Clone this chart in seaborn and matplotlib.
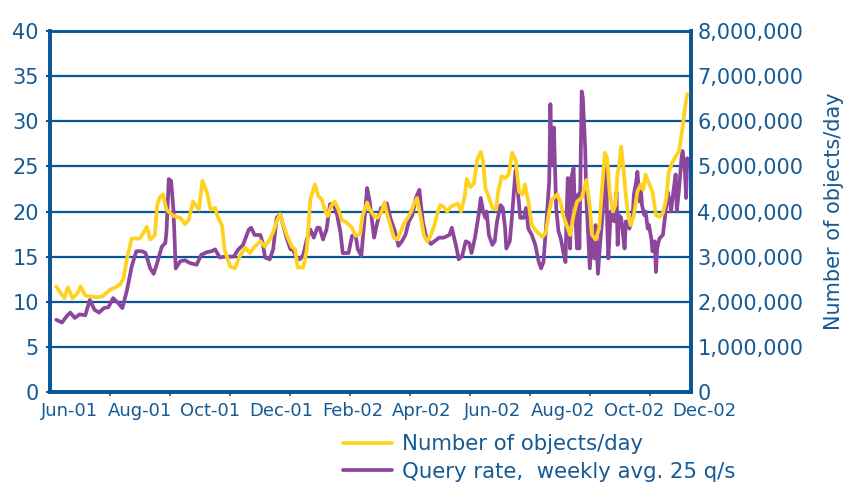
import matplotlib
matplotlib.use("Agg")
import matplotlib.pyplot as plt
import matplotlib.dates as mdates
from matplotlib.ticker import FuncFormatter
import pandas as pd
import seaborn as sns

# ---------------- data ----------------
# days since 2001-06-01
query_days = [-11, -6, -2, 1, 5, 9, 14, 18, 22, 26, 30, 34, 38, 42, 46, 50, 54, 58, 63, 66,
              70, 73, 76, 80, 83, 84, 86, 88, 90, 92, 96, 100, 104, 110, 114, 119, 123, 126, 130, 134,
              137, 142, 146, 150, 155, 157, 160, 165, 167, 169, 173, 176, 179, 182, 185, 188, 191, 193, 196, 199,
              202, 205, 208, 211, 214, 216, 219, 222, 225, 228, 231, 234, 236, 241, 244, 247, 249, 252, 255, 257,
              259, 263, 266, 269, 272, 274, 277, 281, 284, 287, 290, 293, 296, 299, 302, 305, 308, 312, 315, 319,
              323, 328, 330, 332, 334, 336, 339, 342, 345, 347, 350, 353, 355, 357, 359, 360, 362, 365, 367, 369,
              372, 374, 376, 377, 380, 382, 385, 387, 389, 392, 394, 396, 399, 402, 405, 407, 409, 411, 414, 415,
              416, 418, 420, 422, 424, 426, 428, 429, 430, 432, 433, 435, 436, 438, 439, 440, 442, 443, 445, 446,
              448, 449, 451, 453, 454, 456, 458, 460, 461, 463, 464, 465, 467, 469, 470, 472, 473, 474, 476, 477,
              479, 480, 482, 483, 484, 486, 487, 489, 490, 492, 493, 494, 496, 497, 499, 500, 502, 503, 505, 506,
              507, 509, 512, 514, 516, 518, 519, 521, 523, 524, 526, 528, 529, 531, 532, 533]
query_rate = [8.0, 7.7, 8.4, 8.8, 8.2, 8.6, 8.5, 10.2, 9.1, 8.8, 9.3, 9.4, 10.4, 9.9, 9.3, 11.3, 13.9, 15.6, 15.6, 15.4,
              13.7, 13.1, 14.3, 16.1, 16.5, 17.7, 23.6, 23.4, 20.2, 13.7, 14.5, 14.6, 14.3, 14.1, 15.2, 15.5, 15.6, 15.8, 14.9, 15.0,
              15.0, 15.0, 15.8, 16.3, 18.0, 18.2, 17.4, 17.4, 16.5, 14.9, 14.7, 15.8, 19.3, 19.7, 18.3, 16.9, 15.8, 15.8, 14.9, 14.7,
              15.2, 16.9, 18.0, 17.1, 18.2, 18.2, 16.9, 18.0, 20.8, 20.8, 19.7, 17.7, 15.4, 15.4, 17.3, 17.4, 15.8, 15.1, 19.5, 22.6,
              21.3, 17.1, 18.9, 20.4, 20.5, 20.9, 19.3, 17.8, 16.2, 16.7, 17.4, 18.9, 19.6, 21.5, 22.4, 18.9, 17.1, 16.4, 16.7, 17.1,
              17.1, 17.4, 18.2, 17.1, 16.0, 14.7, 15.1, 16.7, 16.5, 15.4, 17.1, 19.5, 21.5, 20.0, 19.3, 20.0, 17.4, 16.3, 16.7, 18.9,
              20.7, 20.4, 18.1, 15.9, 16.7, 19.6, 24.6, 22.2, 19.3, 19.3, 20.4, 18.1, 17.4, 16.3, 14.4, 13.7, 14.4, 17.8, 23.3, 31.9,
              25.2, 29.3, 20.4, 17.8, 17.0, 15.6, 14.4, 19.6, 23.7, 15.9, 23.7, 24.8, 20.4, 15.9, 21.9, 15.9, 33.3, 32.6, 27.0, 21.5,
              16.3, 13.7, 17.5, 14.8, 18.5, 13.1, 16.7, 19.6, 21.9, 24.8, 18.5, 14.8, 20.0, 19.6, 18.9, 22.2, 16.3, 19.6, 19.3, 18.1,
              15.9, 18.9, 18.9, 18.1, 18.5, 19.6, 21.9, 23.3, 24.4, 21.1, 22.6, 20.7, 19.6, 20.0, 18.1, 18.5, 17.0, 15.6, 16.7, 13.3,
              15.9, 17.0, 17.4, 19.6, 22.2, 21.1, 20.0, 22.2, 24.1, 20.0, 22.6, 25.9, 26.7, 24.4, 21.5, 25.9]

objects_days = [-11, -8, -4, -1, 3, 7, 10, 14, 18, 24, 29, 35, 40, 44, 47, 50, 54, 58, 61, 64,
                67, 70, 74, 76, 78, 81, 84, 90, 96, 100, 103, 107, 110, 112, 115, 119, 122, 126, 128, 132,
                134, 139, 143, 147, 152, 156, 160, 165, 169, 173, 176, 179, 182, 184, 188, 192, 195, 197, 202, 205,
                208, 212, 215, 218, 221, 223, 226, 229, 232, 235, 239, 244, 247, 251, 253, 257, 259, 263, 266, 269,
                272, 274, 277, 280, 283, 286, 289, 292, 295, 297, 300, 303, 306, 309, 312, 315, 318, 320, 323, 326,
                329, 332, 335, 338, 341, 343, 346, 349, 352, 355, 357, 359, 362, 365, 368, 370, 373, 376, 379, 382,
                385, 388, 391, 393, 396, 399, 403, 408, 411, 414, 416, 421, 424, 426, 429, 432, 435, 438, 442, 446,
                449, 451, 454, 457, 460, 462, 464, 466, 469, 471, 473, 474, 476, 478, 480, 482, 484, 487, 490, 493,
                495, 497, 500, 503, 506, 509, 512, 515, 517, 520, 523, 526, 529, 531, 533]
# number of objects per day, in millions
objects_millions = [2.34, 2.22, 2.08, 2.32, 2.08, 2.18, 2.34, 2.14, 2.12, 2.10, 2.12, 2.26, 2.32, 2.38, 2.52, 2.96, 3.40, 3.40, 3.40, 3.52,
                    3.66, 3.38, 3.48, 4.14, 4.30, 4.38, 4.04, 3.90, 3.86, 3.72, 3.80, 4.22, 4.12, 4.04, 4.68, 4.42, 4.04, 4.08, 3.90, 3.68,
                    3.16, 2.78, 2.74, 3.00, 3.20, 3.08, 3.22, 3.34, 3.22, 3.38, 3.54, 3.78, 3.94, 3.76, 3.46, 3.22, 3.16, 2.76, 2.76, 3.16,
                    4.26, 4.60, 4.34, 4.26, 4.00, 3.90, 4.12, 4.22, 4.06, 3.82, 3.76, 3.64, 3.46, 3.50, 3.90, 4.20, 4.06, 3.90, 3.86, 3.96,
                    4.20, 3.96, 3.70, 3.42, 3.38, 3.56, 3.74, 3.86, 4.00, 4.14, 4.30, 3.90, 3.46, 3.34, 3.48, 3.70, 4.00, 4.14, 4.10, 4.00,
                    4.10, 4.14, 4.18, 4.00, 4.32, 4.72, 4.54, 4.62, 5.16, 5.32, 5.10, 4.52, 4.30, 4.08, 4.04, 4.44, 4.78, 4.74, 4.82, 5.30,
                    5.14, 4.44, 4.38, 4.60, 4.22, 3.70, 3.56, 3.44, 3.52, 4.00, 4.26, 4.38, 4.18, 3.92, 3.70, 3.48, 3.92, 4.22, 4.30, 4.70,
                    4.10, 3.48, 3.38, 3.62, 4.66, 5.30, 5.18, 4.44, 4.00, 4.14, 4.88, 4.96, 5.44, 4.96, 4.38, 3.92, 3.70, 3.92, 4.44, 4.60,
                    4.48, 4.82, 4.62, 4.44, 3.92, 3.88, 3.96, 4.30, 4.88, 5.08, 5.22, 5.34, 5.86, 6.30, 6.60]

month_labels = ["Jun-01", "Aug-01", "Oct-01", "Dec-01", "Feb-02",
                "Apr-02", "Jun-02", "Aug-02", "Oct-02", "Dec-02"]
month_dates = ["2001-06-01", "2001-08-01", "2001-10-01", "2001-12-01", "2002-02-01",
               "2002-04-01", "2002-06-01", "2002-08-01", "2002-10-01", "2002-12-01"]
left_ticks = [0, 5, 10, 15, 20, 25, 30, 35, 40]
right_ticks_millions = [0, 1, 2, 3, 4, 5, 6, 7, 8]
legend_labels = ["Number of objects/day", "Query rate,  weekly avg. 25 q/s"]
right_axis_title = "Number of objects/day"

assert len(query_days) == len(query_rate)
assert len(objects_days) == len(objects_millions)

# ---------------- style ----------------
BLUE = "#0A5596"
TEXT = "#165A94"
YELLOW = "#FFD21F"
PURPLE = "#8C479C"

sns.set_style("white")
plt.rcParams["font.family"] = ["DejaVu Sans"]

base = pd.Timestamp("2001-06-01")
qdf = pd.DataFrame({"date": base + pd.to_timedelta(query_days, unit="D"), "rate": query_rate})
odf = pd.DataFrame({"date": base + pd.to_timedelta(objects_days, unit="D"), "objects": objects_millions})

fig = plt.figure(figsize=(8.52, 4.84), dpi=100)
fig.patch.set_facecolor("white")
W, H = 852, 484
ax = fig.add_axes([50 / W, 1 - 392 / H, 640.5 / W, 361 / H])

sns.lineplot(data=qdf, x="date", y="rate", ax=ax, color=PURPLE, linewidth=2.7, legend=False)
ax2 = ax.twinx()
sns.lineplot(data=odf, x="date", y="objects", ax=ax2, color=YELLOW, linewidth=2.7, legend=False)

x_lo = base - pd.Timedelta(days=16.4)
x_hi = base + pd.Timedelta(days=535.8)
ax.set_xlim(x_lo, x_hi)
ax.set_ylim(0, 40)
ax2.set_ylim(0, 8)

# gridlines
ax.set_axisbelow(True)
ax.yaxis.grid(True, color=BLUE, linewidth=1.6)
ax.xaxis.grid(False)

# spines
for a in (ax, ax2):
    for side, sp in a.spines.items():
        sp.set_color(BLUE)
        sp.set_linewidth(2.6 if side != "top" else 1.8)
        sp.set_visible(True)

# y ticks
ax.set_yticks(left_ticks)
ax.tick_params(axis="y", which="both", left=True, length=3, width=1.5, color=BLUE,
               labelcolor=TEXT, labelsize=15, pad=5)
ax2.set_yticks(right_ticks_millions)
ax2.yaxis.set_major_formatter(FuncFormatter(lambda v, p: f"{v * 1e6:,.0f}"))
ax2.tick_params(axis="y", which="both", right=True, length=0, labelcolor=TEXT, labelsize=15, pad=5)

# x-axis: small category tick marks (no labels), month labels as text
lo_n, hi_n = mdates.date2num(x_lo), mdates.date2num(x_hi)
step = (hi_n - lo_n) * 60 / 640.5
marks = [lo_n + k * step for k in range(1, 11)]
ax.set_xticks(marks)
ax.set_xticklabels([""] * len(marks))
ax.tick_params(axis="x", bottom=True, length=3, width=1.2, color=BLUE)
for lab, d in zip(month_labels, month_dates):
    ax.text(mdates.date2num(pd.Timestamp(d)), -0.028, lab, transform=ax.get_xaxis_transform(),
            ha="center", va="top", fontsize=13, color=TEXT, clip_on=False)

ax.set_xlabel("")
ax.set_ylabel("")
ax2.set_ylabel(right_axis_title, color=TEXT, fontsize=15, labelpad=15)

# legend
h_obj = ax2.lines[0]
h_q = ax.lines[0]
fig.legend([h_obj, h_q], legend_labels, loc="center left",
           bbox_to_anchor=(343 / W, 1 - 458 / H), frameon=False, fontsize=15.3,
           labelcolor=TEXT, handlelength=2.3, handletextpad=0.5, borderpad=0,
           borderaxespad=0, labelspacing=0.35)

fig.savefig("out.png", dpi=100, facecolor="white")
